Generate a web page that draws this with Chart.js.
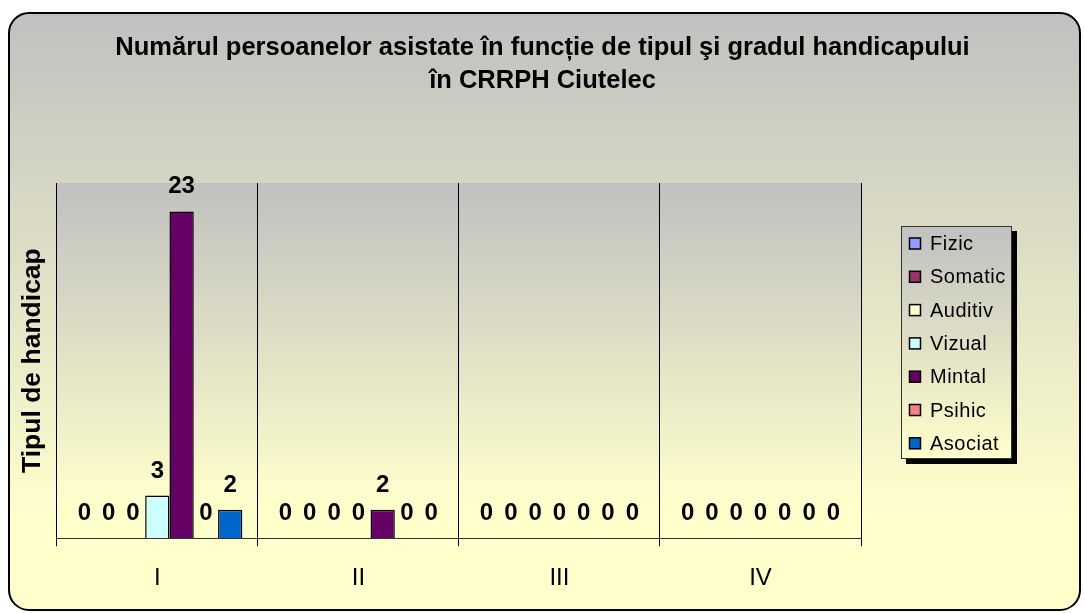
<!DOCTYPE html>
<html>
<head>
<meta charset="utf-8">
<script src="https://cdn.jsdelivr.net/npm/chart.js@4/dist/chart.umd.min.js"></script>
<style>
  html, body { margin: 0; padding: 0; background: #ffffff; }
  #wrap { width: 1085px; height: 613px; position: relative; }
</style>
</head>
<body>
<div id="wrap"><canvas id="c" width="1085" height="613"></canvas></div>
<script>
const categories = ['I', 'II', 'III', 'IV'];
const seriesNames = ['Fizic', 'Somatic', 'Auditiv', 'Vizual', 'Mintal', 'Psihic', 'Asociat'];
const fizic   = [0, 0, 0, 0];
const somatic = [0, 0, 0, 0];
const auditiv = [0, 0, 0, 0];
const vizual  = [3, 0, 0, 0];
const mintal  = [23, 2, 0, 0];
const psihic  = [0, 0, 0, 0];
const asociat = [2, 0, 0, 0];
const seriesColors = ['#9999FF', '#993366', '#FFFFCC', '#CCFFFF', '#660066', '#FF8080', '#0066CC'];
const titleLines = ['Numărul persoanelor asistate în funcție de tipul şi gradul handicapului', 'în CRRPH Ciutelec'];
const yAxisTitle = 'Tipul de handicap';
const yMax = 25;

const FONT = "'Liberation Sans', Arial, sans-serif";
const seriesValues = [fizic, somatic, auditiv, vizual, mintal, psihic, asociat];

const backgroundPlugin = {
  id: 'bgPlugin',
  beforeDraw(chart) {
    const ctx = chart.ctx;
    const W = chart.width, H = chart.height;
    ctx.save();
    ctx.fillStyle = '#ffffff';
    ctx.fillRect(0, 0, W, H);
    const x0 = 9, y0 = 13, x1 = 1080, y1 = 610, r = 20;
    const g = ctx.createLinearGradient(0, y0, 0, y1);
    g.addColorStop(0, '#c0c0c0');
    g.addColorStop(0.85, '#ffffcc');
    g.addColorStop(1, '#ffffcc');
    ctx.beginPath();
    ctx.roundRect(x0, y0, x1 - x0, y1 - y0, r);
    ctx.fillStyle = g;
    ctx.fill();
    ctx.lineWidth = 2;
    ctx.strokeStyle = '#000000';
    ctx.stroke();
    const a = chart.chartArea;
    const pg = ctx.createLinearGradient(0, a.top, 0, a.bottom);
    pg.addColorStop(0, '#c0c0c0');
    pg.addColorStop(0.9, '#ffffcc');
    pg.addColorStop(1, '#ffffcc');
    ctx.fillStyle = pg;
    ctx.fillRect(a.left, a.top, a.right - a.left, a.bottom - a.top);
    ctx.restore();
  }
};

const valueLabelPlugin = {
  id: 'valueLabels',
  afterDatasetsDraw(chart) {
    const ctx = chart.ctx;
    ctx.save();
    ctx.font = 'bold 24px ' + FONT;
    ctx.fillStyle = '#000000';
    ctx.textAlign = 'center';
    ctx.textBaseline = 'alphabetic';
    chart.data.datasets.forEach((ds, di) => {
      const meta = chart.getDatasetMeta(di);
      meta.data.forEach((el, i) => {
        ctx.fillText(String(ds.data[i]), el.x, el.y - 18);
      });
    });
    ctx.restore();
  }
};

const legendPlugin = {
  id: 'boxLegend',
  afterDraw(chart) {
    const ctx = chart.ctx;
    const lx = 901, ly = 226, lw = 111, lh = 233;
    ctx.save();
    ctx.fillStyle = '#000000';
    ctx.fillRect(lx + 5, ly + 5, lw, lh);
    const g = ctx.createLinearGradient(0, ly, 0, ly + lh);
    g.addColorStop(0, '#c0c0c0');
    g.addColorStop(1, '#ffffcc');
    ctx.fillStyle = g;
    ctx.fillRect(lx, ly, lw, lh);
    ctx.lineWidth = 1;
    ctx.strokeStyle = '#333333';
    ctx.strokeRect(lx + 0.5, ly + 0.5, lw - 1, lh - 1);
    ctx.font = '20px ' + FONT;
    ctx.textBaseline = 'middle';
    ctx.textAlign = 'left';
    try { ctx.letterSpacing = '0.5px'; } catch (e) {}
    chart.data.datasets.forEach((ds, i) => {
      const cy = 243.5 + i * 33.3;
      ctx.fillStyle = ds.backgroundColor;
      ctx.fillRect(909.5, cy - 5.5, 11, 11);
      ctx.lineWidth = 1.5;
      ctx.strokeStyle = '#000000';
      ctx.strokeRect(909.5, cy - 5.5, 11, 11);
      ctx.fillStyle = '#000000';
      ctx.fillText(ds.label, 930, cy + 1);
    });
    ctx.restore();
  }
};

const datasets = seriesNames.map((name, i) => ({
  label: name,
  data: seriesValues[i],
  backgroundColor: seriesColors[i],
  borderColor: '#000000',
  borderWidth: 1.5,
  categoryPercentage: 0.846,
  barPercentage: 1.0
}));

new Chart(document.getElementById('c'), {
  type: 'bar',
  data: { labels: categories, datasets: datasets },
  options: {
    responsive: false,
    animation: false,
    devicePixelRatio: 1,
    layout: { padding: { left: 0, right: 0, top: 0, bottom: 2 } },
    plugins: {
      legend: { display: false },
      tooltip: { enabled: false },
      title: {
        display: true,
        text: titleLines,
        color: '#000000',
        font: { family: FONT, size: 25.5, weight: 'bold', lineHeight: 1.3 },
        padding: { top: 31, bottom: 85.7 }
      }
    },
    scales: {
      x: {
        grid: {
          display: true,
          offset: true,
          color: '#000000',
          lineWidth: 1,
          drawTicks: true,
          tickLength: 8
        },
        border: { display: true, color: '#333333', width: 1 },
        ticks: {
          color: '#000000',
          font: { family: FONT, size: 24, weight: 'normal' },
          padding: 18
        }
      },
      y: {
        min: 0,
        max: yMax,
        grid: { display: false, drawTicks: false },
        border: { display: false },
        ticks: { display: false },
        title: {
          display: true,
          text: yAxisTitle,
          color: '#000000',
          font: { family: FONT, size: 26.5, weight: 'bold', lineHeight: 1.2 },
          padding: { top: 17, bottom: 8 }
        }
      },
      legendSpace: {
        type: 'linear',
        position: 'right',
        display: true,
        grid: { display: false, drawTicks: false },
        border: { display: false },
        ticks: { display: false },
        afterFit: (scale) => { scale.width = 224; }
      }
    }
  },
  plugins: [backgroundPlugin, valueLabelPlugin, legendPlugin]
});
</script>
</body>
</html>
